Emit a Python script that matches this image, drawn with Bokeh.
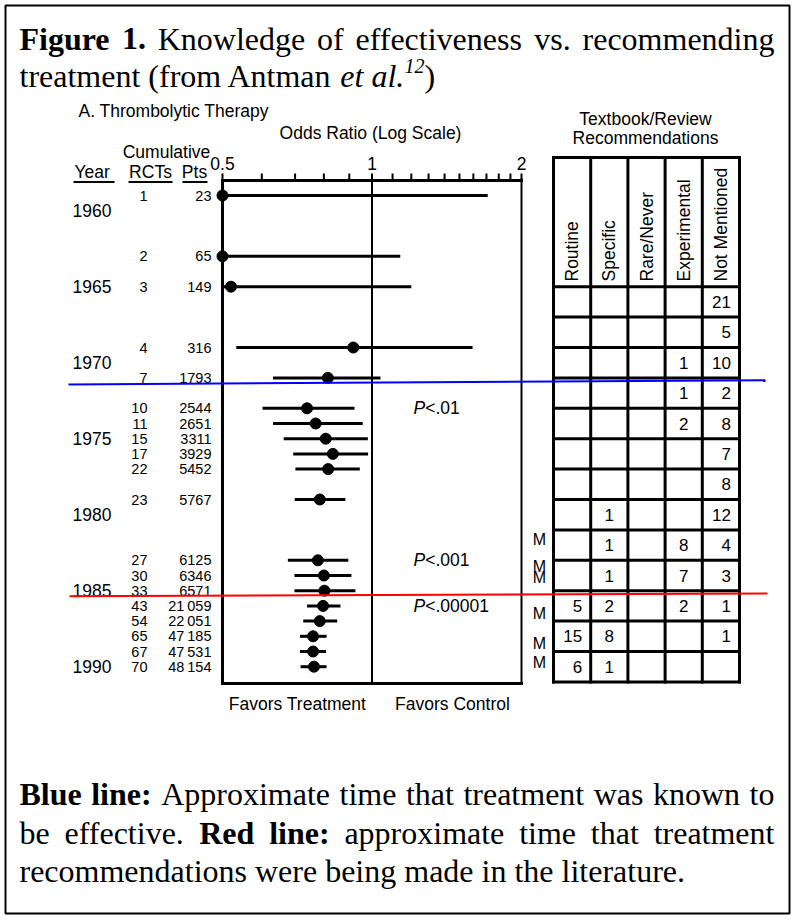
import math
from bokeh.plotting import figure
from bokeh.models import Range1d, LogScale, ColumnDataSource
from bokeh.core.properties import value
from bokeh.embed import file_html
from bokeh.resources import INLINE

# ---------------- data ----------------
study_year = [1959, 1963, 1965, 1969, 1971, 1973, 1974, 1975, 1976, 1977,
              1979, 1983, 1984, 1985, 1986, 1987, 1988, 1989, 1990]
cum_rcts = [1, 2, 3, 4, 7, 10, 11, 15, 17, 22, 23, 27, 30, 33, 43, 54, 65, 67, 70]
cum_pts = [23, 65, 149, 316, 1793, 2544, 2651, 3311, 3929, 5452, 5767, 6125,
           6346, 6571, 21059, 22051, 47185, 47531, 48154]
odds_ratio = [0.50, 0.50, 0.52, 0.917, 0.815, 0.740, 0.770, 0.807, 0.834, 0.816,
              0.785, 0.778, 0.800, 0.802, 0.797, 0.785, 0.761, 0.761, 0.764]
ci_low = [0.50, 0.50, 0.50, 0.533, 0.632, 0.602, 0.632, 0.664, 0.694, 0.701,
          0.699, 0.677, 0.698, 0.698, 0.740, 0.727, 0.716, 0.716, 0.718]
ci_high = [1.71, 1.14, 1.20, 1.594, 1.04, 0.922, 0.958, 0.981, 0.982, 0.945,
           0.884, 0.896, 0.909, 0.926, 0.864, 0.851, 0.810, 0.808, 0.810]
year_labels = [1960, 1965, 1970, 1975, 1980, 1985, 1990]
or_major_ticks = [0.5, 1, 2]
or_major_labels = ["0.5", "1", "2"]
or_minor_ticks = [0.6, 0.7, 0.8, 0.9, 1.1, 1.2, 1.3, 1.4, 1.5, 1.6, 1.7, 1.8, 1.9]
p_value_text = ["<.01", "<.001", "<.00001"]
p_value_year = [1973, 1983, 1986]

rec_categories = ["Routine", "Specific", "Rare/Never", "Experimental", "Not Mentioned"]
rec_period_start = [1965, 1967, 1969, 1971, 1973, 1975, 1977, 1979, 1981, 1983, 1985, 1987, 1989]
rec_period_length = 2
rec_routine = [None, None, None, None, None, None, None, None, None, None, 5, 15, 6]
rec_specific = [None, None, None, None, None, None, None, 1, 1, 1, 2, 8, 1]
rec_rare_never = [None, None, None, None, None, None, None, None, None, None, None, None, None]
rec_experimental = [None, None, 1, 1, 2, None, None, None, 8, 7, 2, None, None]
rec_not_mentioned = [21, 5, 10, 2, 8, 7, 8, 12, 4, 3, 1, 1, None]
meta_analysis_year = [1981.6, 1983.4, 1984.1, 1986.5, 1988.5, 1989.7]

known_effective_year = [1971.43, 1971.15]   # blue line (left end, right end)
recommended_year = [1985.36, 1985.18]       # red line

# ---------------- layout (page pixels) ----------------
PX0, PY0 = 0, 0
W, H = 795, 921
F_LEFT, F_RIGHT = 222, 521           # OR 0.5 and 2
F_TOP, F_BOTTOM = 180, 683
YEAR0, YEAR0_PX, PX_PER_YEAR = 1959, 195, 15.2
T_LEFT, COL_W, T_TOP, T_HEAD_BOTTOM = 553, 37.2, 157, 281
SANS = "Liberation Sans"
SERIF = "Liberation Serif"

px_per_log2 = (F_RIGHT - F_LEFT) / 2.0
or_start = 0.5 * 2 ** (-(F_LEFT - PX0) / px_per_log2)
or_end = 0.5 * 2 ** ((PX0 + W - F_LEFT) / px_per_log2)
yr_bottom = YEAR0 + (PY0 + H - YEAR0_PX) / PX_PER_YEAR
yr_top = YEAR0 - (YEAR0_PX - PY0) / PX_PER_YEAR


def px_to_year(py):
    return YEAR0 + (py - YEAR0_PX) / PX_PER_YEAR


p = figure(width=W, height=H,
           x_range=Range1d(PX0, PX0 + W), y_range=Range1d(PY0 + H, PY0),
           output_backend="svg", toolbar_location=None,
           x_axis_location=None, y_axis_location=None, min_border=0,
           outline_line_color=None, background_fill_color="white",
           border_fill_color="white")
p.grid.visible = False
p.extra_x_ranges = {"or": Range1d(or_start, or_end)}
p.extra_x_scales = {"or": LogScale()}
p.extra_y_ranges = {"yr": Range1d(yr_bottom, yr_top)}


def txt(x, y, s, size, font=SANS, style="normal", align="left",
        baseline="middle", angle=0.0, xr="default", yr="default"):
    p.text(x=[x], y=[y], text=[s], text_font=value(font),
           text_font_size=f"{size}px", text_font_style=style,
           text_align=align, text_baseline=baseline, angle=angle,
           x_range_name=xr, y_range_name=yr, text_color="black")


# ---------- serif caption texts (Times metrics for justification) ----------
TR = dict(zip(" ().:/0123456789", [250, 333, 333, 250, 278, 278] + [500] * 10))
TR.update(dict(zip("abcdefghijklmnopqrstuvwxyz",
                   [444, 500, 444, 500, 444, 333, 500, 500, 278, 278, 500, 278, 778,
                    500, 500, 500, 500, 333, 389, 278, 500, 500, 722, 500, 500, 444])))
TR.update({"A": 722, "B": 667, "F": 556, "K": 722, "R": 667})
TB = dict(TR)
TB.update({" ": 250, ".": 250, ":": 333, "1": 500, "B": 667, "F": 611, "R": 722,
           "e": 444, "g": 500, "i": 278, "l": 278, "n": 556, "r": 444, "u": 556,
           "d": 556})
CAP = 32


def width(s, style):
    tab = TB if style == "bold" else TR
    return sum(tab.get(c, 500) for c in s) * CAP / 1000.0


def justified(words, x0, x1, yc):
    total = sum(width(w, s) for w, s in words)
    gap = (x1 - x0 - total) / (len(words) - 1)
    x = x0
    for w, s in words:
        txt(x, yc, w, CAP, font=SERIF, style=s)
        x += width(w, s) + gap


TX0, TX1 = 19, 774
justified([("Figure", "bold"), ("1.", "bold"), ("Knowledge", "normal"), ("of", "normal"),
           ("effectiveness", "normal"), ("vs.", "normal"), ("recommending", "normal")],
          TX0, TX1, 38)
x = TX0
txt(x, 75, "treatment (from Antman ", CAP, font=SERIF)
x += width("treatment (from Antman ", "normal")
txt(x, 75, "et al.", CAP, font=SERIF, style="italic")
x += width("et al.", "normal") + 2
txt(x, 65, "12", 20, font=SERIF, style="italic")
x += 20
txt(x, 75, ")", CAP, font=SERIF)

justified([("Blue", "bold"), ("line:", "bold"), ("Approximate", "normal"), ("time", "normal"),
           ("that", "normal"), ("treatment", "normal"), ("was", "normal"), ("known", "normal"),
           ("to", "normal")], TX0, TX1, 793)
justified([("be", "normal"), ("effective.", "normal"), ("Red", "bold"), ("line:", "bold"),
           ("approximate", "normal"), ("time", "normal"), ("that", "normal"),
           ("treatment", "normal")], TX0, TX1, 832)
txt(TX0, 870, "recommendations were being made in the literature.", CAP, font=SERIF)

# outer border
p.quad(left=[5], right=[789], top=[5], bottom=[913], fill_color=None,
       line_color="black", line_width=2)

# ---------------- forest plot ----------------
FS = 17.5
txt(78, 110, "A.  Thrombolytic Therapy", FS)
txt(370, 132, "Odds Ratio (Log Scale)", FS, align="center")
txt(166, 151, "Cumulative", FS, align="center")
txt(74, 171, "Year", FS)
txt(150, 171, "RCTs", FS, align="center")
txt(194, 171, "Pts", FS, align="center")
p.segment(x0=[73, 128, 182], x1=[114, 172, 207], y0=[181.5] * 3, y1=[181.5] * 3,
          line_color="black", line_width=2)

for v, lab in zip(or_major_ticks, or_major_labels):
    txt(v, 163, lab, FS, align="center", xr="or")

p.segment(x0=or_minor_ticks + or_major_ticks, x1=or_minor_ticks + or_major_ticks,
          y0=F_TOP, y1=F_TOP - 7, x_range_name="or", line_color="black", line_width=2)
# frame of the plot
p.segment(x0=[0.5, 0.5, 0.5], x1=[2, 2, 0.5], y0=[F_TOP, F_BOTTOM, F_TOP],
          y1=[F_TOP, F_BOTTOM, F_BOTTOM], x_range_name="or", line_color="black",
          line_width=3, line_cap="square")
p.segment(x0=[2, 1], x1=[2, 1], y0=[F_TOP - 2] * 2, y1=[F_BOTTOM] * 2,
          x_range_name="or", line_color="black", line_width=2)

src = ColumnDataSource(dict(
    year=study_year, lo=ci_low, hi=ci_high, orr=odds_ratio,
    rcts=[str(v) for v in cum_rcts],
    pts=[f"{v // 1000}\u2009{v % 1000:03d}" if v >= 10000 else str(v) for v in cum_pts]))
p.segment(x0="lo", x1="hi", y0="year", y1="year", source=src, x_range_name="or",
          y_range_name="yr", line_color="black", line_width=3)
p.scatter(x="orr", y="year", source=src, size=11, marker="circle", x_range_name="or",
          y_range_name="yr", fill_color="black", line_color="black")
p.text(x=147, y="year", text="rcts", source=src, y_range_name="yr",
       text_font=value(SANS), text_font_size="14.5px", text_align="right",
       text_baseline="middle", text_color="black")
p.text(x=211, y="year", text="pts", source=src, y_range_name="yr",
       text_font=value(SANS), text_font_size="14.5px", text_align="right",
       text_baseline="middle", text_color="black")
p.text(x=72, y=year_labels, text=[str(v) for v in year_labels], y_range_name="yr",
       text_font=value(SANS), text_font_size="17.5px", text_baseline="middle",
       text_color="black")
for lab, yr in zip(p_value_text, p_value_year):
    txt(413, yr, "P", FS, style="italic", yr="yr")
    txt(413 + 0.667 * FS, yr, lab, FS, yr="yr")

txt(297, 703, "Favors Treatment", FS, align="center")
txt(452, 703, "Favors Control", FS, align="center")

# ---------------- recommendations table ----------------
txt(645, 118, "Textbook/Review", FS, align="center")
txt(645, 137, "Recommendations", FS, align="center")
ncol = len(rec_categories)
col_x = [T_LEFT + i * COL_W for i in range(ncol + 1)]
row_edges = rec_period_start + [rec_period_start[-1] + rec_period_length]
p.segment(x0=col_x, x1=col_x, y0=px_to_year(T_TOP), y1=row_edges[-1],
          y_range_name="yr", line_color="black", line_width=3, line_cap="square")
p.segment(x0=T_LEFT, x1=col_x[-1], y0=row_edges, y1=row_edges,
          y_range_name="yr", line_color="black", line_width=3, line_cap="square")
p.segment(x0=[T_LEFT], x1=[col_x[-1]], y0=[T_TOP], y1=[T_TOP],
          line_color="black", line_width=3, line_cap="square")
for i, cat in enumerate(rec_categories):
    txt(col_x[i] + COL_W / 2, T_HEAD_BOTTOM, cat, FS, angle=math.pi / 2)

columns = [rec_routine, rec_specific, rec_rare_never, rec_experimental, rec_not_mentioned]
col_align = ["right", "center", "center", "center", "right"]
for i, (vals, al) in enumerate(zip(columns, col_align)):
    xs, ys, ts = [], [], []
    for start, v in zip(rec_period_start, vals):
        if v is not None:
            xs.append(col_x[i + 1] - 8.5 if al == "right" else col_x[i] + COL_W / 2)
            ys.append(start + rec_period_length / 2)
            ts.append(str(v))
    if xs:
        p.text(x=xs, y=ys, text=ts, y_range_name="yr", text_font=value(SANS),
               text_font_size="17px", text_align=al, text_baseline="middle",
               text_color="black")

p.text(x=539, y=meta_analysis_year, text=["M"] * len(meta_analysis_year),
       y_range_name="yr", text_font=value(SANS), text_font_size="16px",
       text_align="center", text_baseline="middle", text_color="black")

# ---------------- overlay lines ----------------
p.line(x=[68, 765], y=known_effective_year, y_range_name="yr", line_color="#0000ff",
       line_width=2)
p.line(x=[69, 767], y=recommended_year, y_range_name="yr", line_color="#ff0000",
       line_width=2)

open("out.html", "w").write(file_html(p, INLINE))
